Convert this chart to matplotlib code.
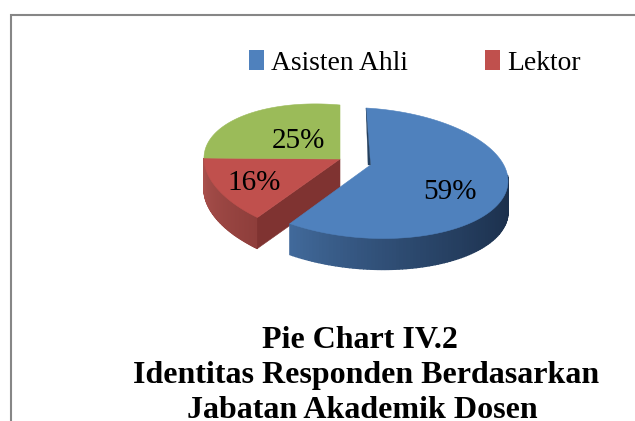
import matplotlib
matplotlib.use('Agg')
import matplotlib.pyplot as plt
import numpy as np
from matplotlib.colors import to_rgb
from matplotlib.patches import Patch

legend_labels = ['Asisten Ahli', 'Lektor']
values = [59, 16, 25]
slice_labels = ['59%', '16%', '25%']
top_colors = ['#4f81bd', '#c0504d', '#9bbb59']
title_lines = ['Pie Chart IV.2', 'Identitas Responden Berdasarkan', 'Jabatan Akademik Dosen']

plt.rc('font', family=['Liberation Serif', 'DejaVu Serif'])

# geometry of the fake 3d pie, in pixels
blue = dict(cx=366, cy=173, rx=142, ry=65, k=8, ax=370.5, ay=165)
green = dict(cx=340, cy=170, rx=136, ry=65, k=12, ax=340, ay=159)
red = dict(cx=340, cy=172, rx=136, ry=68, k=14, ax=340, ay=159)
depth = 31
tip_shift = 5  # perspective pulls the red tip further round


def rim(p, deg):
    t = np.radians(deg)
    return p['cx'] + p['rx'] * np.sin(t), p['cy'] - p['ry'] * np.cos(t) + p['k'] * np.sin(t)


def mix(c1, c2, f):
    c1, c2 = np.array(to_rgb(c1)), np.array(to_rgb(c2))
    return tuple(c1 + (c2 - c1) * f)


def side(ax, p, a0, a1, c0, c1, power, z):
    # outer wall as thin strips, so the shade changes along the rim
    angles = np.linspace(a0, a1, 90)
    for i in range(len(angles) - 1):
        x0, y0 = rim(p, angles[i])
        x1, y1 = rim(p, angles[i + 1])
        col = mix(c0, c1, (i / (len(angles) - 2)) ** power)
        ax.fill([x0, x1, x1, x0], [y0, y1, y1 + depth, y0 + depth], color=col, lw=1, zorder=z)


def top(ax, p, a0, a1, col, z):
    xs, ys = rim(p, np.linspace(a0, a1, 120))
    ax.fill(np.r_[p['ax'], xs], np.r_[p['ay'], ys], color=col, lw=0.4, zorder=z)


fig = plt.figure(figsize=(6.35, 4.21), dpi=100)
ax = fig.add_axes([0, 0, 1, 1])
ax.set_xlim(0, 635)
ax.set_ylim(421, 0)
ax.axis('off')

# frame, cut off on the right and at the bottom
ax.plot([11, 11, 635], [421, 15, 15], color='#868686', lw=1.5, solid_joinstyle='miter')

ends = np.cumsum(values) / np.sum(values) * 360
a_blue, a_red, a_green = ends

# red and green slices
side(ax, red, a_blue + tip_shift, a_red, '#8e3e3b', '#a9504c', 1, 2)
tx, ty = rim(red, a_blue + tip_shift)
ax.fill([red['ax'], tx, tx, red['ax']], [red['ay'], ty, ty + depth, red['ay'] + depth],
        color='#7f3331', lw=0.4, zorder=3)
top(ax, red, a_blue + tip_shift, a_red, top_colors[1], 4)
top(ax, green, a_red, a_green, top_colors[2], 4)

# blue slice sits in front
side(ax, blue, 85, a_blue, '#1b2f4b', '#41699a', 1.6, 5)
top(ax, blue, 0, a_blue, top_colors[0], 6)
bx, by = rim(blue, 0)
ax.fill([bx, blue['ax'] - 2.5, blue['ax']], [by, blue['ay'], blue['ay']], color='#24405f', lw=0.2, zorder=7)

# percent labels
label_pos = [(450, 192), (254, 183), (298, 141)]
for (lx, ly), s in zip(label_pos, slice_labels):
    ax.text(lx, ly, s, fontsize=21, ha='center', va='center', color='black', zorder=8)

handles = [Patch(facecolor=c, edgecolor='none') for c in top_colors[:2]]
ax.legend(handles, legend_labels, loc='center', bbox_to_anchor=(0.653, 0.85), ncol=2, frameon=False,
          fontsize=19.8, handlelength=0.55, handleheight=0.72, handletextpad=0.25, columnspacing=2.8)

for x, y, s in zip([360, 366, 362], [341, 375, 411], title_lines):
    ax.text(x, y, s, fontsize=23, fontweight='bold', ha='center', va='center', color='black')

fig.savefig('out.png', dpi=100)
